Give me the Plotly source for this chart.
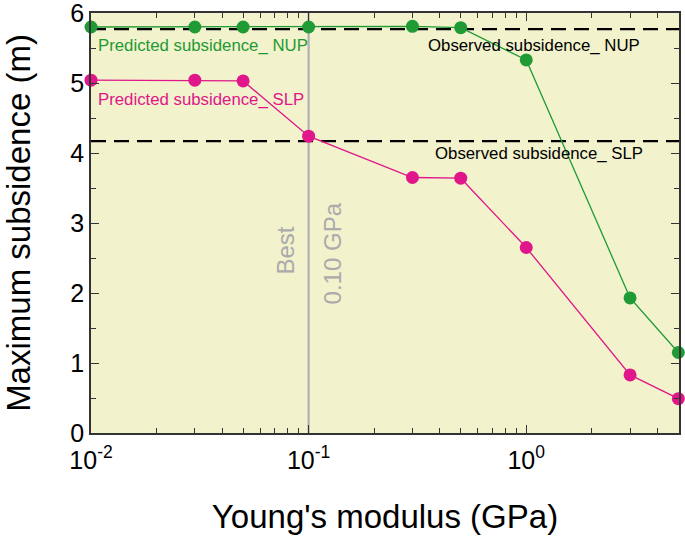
import plotly.graph_objects as go
import numpy as np

modulus = [0.01, 0.03, 0.05, 0.1, 0.3, 0.5, 1.0, 3.0, 5.0]
nup_pred = [5.80, 5.80, 5.80, 5.80, 5.81, 5.79, 5.33, 1.93, 1.15]
slp_pred = [5.04, 5.04, 5.03, 4.24, 3.65, 3.64, 2.65, 0.83, 0.49]
nup_obs = 5.77
slp_obs = 4.17
best_modulus = 0.10

x_ticks = [0.01, 0.1, 1]
x_tick_text = ["10<sup>-2</sup>", "10<sup>-1</sup>", "10<sup>0</sup>"]
y_ticks = [0, 1, 2, 3, 4, 5, 6]

GREEN = "#1f9a35"
PINK = "#e0168a"
FONT = "Liberation Sans, Arial, sans-serif"

fig = go.Figure()

fig.add_hline(y=nup_obs, line=dict(color="black", width=2.4, dash="15px,8px"), layer="below")
fig.add_hline(y=slp_obs, line=dict(color="black", width=2.4, dash="15px,8px"), layer="below")
fig.add_vline(x=best_modulus, line=dict(color="#b0b0b0", width=2.2), layer="below")

fig.add_trace(go.Scatter(x=modulus, y=nup_pred, mode="lines+markers",
                         line=dict(color=GREEN, width=1.3),
                         marker=dict(color=GREEN, size=13), cliponaxis=False))
fig.add_trace(go.Scatter(x=modulus, y=slp_pred, mode="lines+markers",
                         line=dict(color=PINK, width=1.3),
                         marker=dict(color=PINK, size=13), cliponaxis=False))

ann_font = dict(family=FONT, size=16.8)
fig.add_annotation(x=-1.975, y=5.54, text="Predicted subsidence_ NUP", showarrow=False,
                   xanchor="left", font=dict(ann_font, color=GREEN))
fig.add_annotation(x=-1.978, y=4.76, text="Predicted subsidence_ SLP", showarrow=False,
                   xanchor="left", font=dict(ann_font, color=PINK))
fig.add_annotation(x=-0.462, y=5.54, text="Observed subsidence_ NUP", showarrow=False,
                   xanchor="left", font=dict(ann_font, color="black"))
fig.add_annotation(x=-0.43, y=3.99, text="Observed subsidence_ SLP", showarrow=False,
                   xanchor="left", font=dict(ann_font, color="black"))
fig.add_annotation(x=np.log10(best_modulus), xshift=-24, y=2.6, text="Best", showarrow=False,
                   textangle=-90, font=dict(family=FONT, size=24, color="#ababab"))
fig.add_annotation(x=np.log10(best_modulus), xshift=24, y=2.56, text="0.10 GPa", showarrow=False,
                   textangle=-90, font=dict(family=FONT, size=24, color="#ababab"))

fig.update_xaxes(type="log", range=[-2, 0.702], automargin=False,
                 tickmode="array", tickvals=x_ticks, ticktext=x_tick_text,
                 ticks="inside", ticklen=8, tickwidth=1.2, tickcolor="#333",
                 showline=True, linecolor="#333", linewidth=1.5, mirror="ticks",
                 showgrid=False, zeroline=False, ticklabelstandoff=4,
                 ticklabeloverflow="allow",
                 tickfont=dict(family=FONT, size=25, color="black"),
                 minor=dict(ticks="inside", ticklen=5, tickwidth=1, tickcolor="#333",
                            tickmode="array",
                            tickvals=[0.02, 0.03, 0.04, 0.05, 0.06, 0.07, 0.08, 0.09,
                                      0.2, 0.3, 0.4, 0.5, 0.6, 0.7, 0.8, 0.9,
                                      2, 3, 4], showgrid=False),
                 title=dict(text="Young's modulus (GPa)", standoff=32,
                            font=dict(family=FONT, size=33, color="black")))
fig.update_yaxes(range=[0, 6], tickmode="array", tickvals=y_ticks,
                 ticktext=[str(v) for v in y_ticks], automargin=False,
                 ticklabeloverflow="allow",
                 ticks="inside", ticklen=8, tickwidth=1.2, tickcolor="#333",
                 showline=True, linecolor="#333", linewidth=1.5, mirror="ticks",
                 showgrid=False, zeroline=False,
                 tickfont=dict(family=FONT, size=25, color="black"),
                 minor=dict(ticks="inside", ticklen=5, tickwidth=1, tickcolor="#333",
                            tickmode="array", tickvals=[0.5, 1.5, 2.5, 3.5, 4.5, 5.5],
                            showgrid=False),
                 title=dict(text="Maximum subsidence (m)", standoff=30,
                            font=dict(family=FONT, size=33, color="black")))

fig.update_layout(width=685, height=536, showlegend=False,
                  plot_bgcolor="#f2f2cc", paper_bgcolor="white",
                  margin=dict(l=91, r=6, t=13, b=103))

fig.write_html("out.html", config={"displayModeBar": False},
               post_script="document.body.style.margin='0';")
